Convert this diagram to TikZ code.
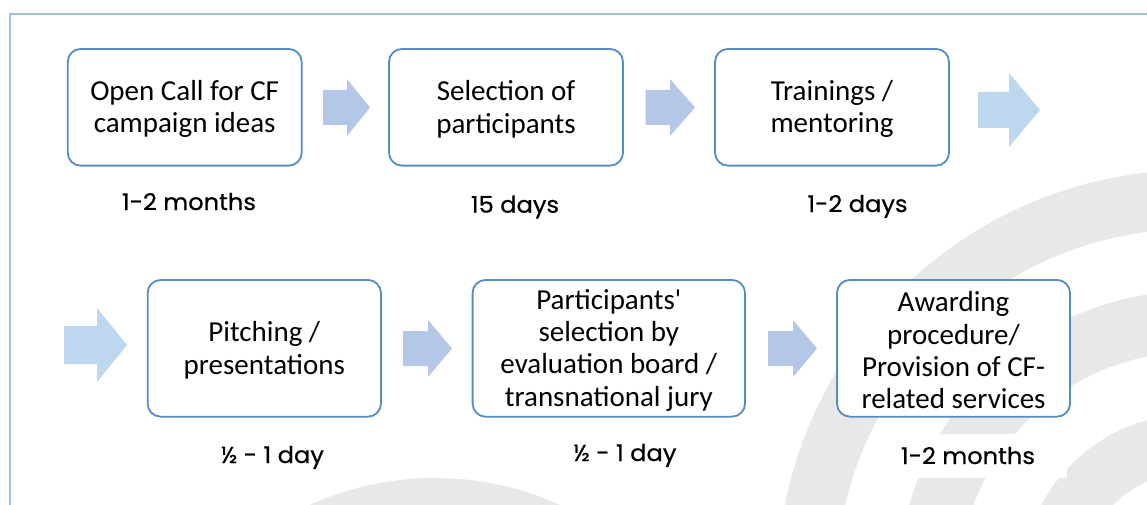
\documentclass[tikz,border=0pt]{standalone}
\usepackage{fontspec}
\setmainfont{Carlito}[Ligatures=TeXOff]
\newfontfamily\labelfont{Poppins}[FakeBold=0.6,FakeStretch=1.05]
\definecolor{boxblue}{RGB}{86,139,197}
\definecolor{arrowA}{RGB}{180,199,231}
\definecolor{arrowB}{RGB}{189,215,238}
\definecolor{framecol}{RGB}{157,195,230}
\definecolor{bandgray}{RGB}{232,232,232}
\newcommand{\blockarrow}[7]{%
  \fill[#7] (#1,#4-#5) -- (#2,#4-#5) -- (#2,#4-#6) -- (#3,#4) -- (#2,#4+#6) -- (#2,#4+#5) -- (#1,#4+#5) -- cycle;}
\begin{document}
\begin{tikzpicture}[x=1pt,y=-1pt,
  stepbox/.style={draw=boxblue, line width=1.8pt, rounded corners=13pt, fill=white, inner sep=0pt},
  steptext/.style={align=center, inner sep=0pt, font=\fontsize{29}{32.2}\selectfont},
  durlabel/.style={anchor=base, inner sep=0pt, font=\labelfont\fontsize{23}{26}\selectfont}]
\useasboundingbox (0,0) rectangle (1147,505);
\fill[white] (0,0) rectangle (1147,505);
% background rings
\begin{scope}
\clip (0,0) rectangle (1147,505);
\fill[bandgray, even odd rule] (1193,586) circle (416pt) (1193,586) circle (357pt)
  (1193,586) circle (295pt) (1193,586) circle (234pt)
  (1193,586) circle (172pt) (1193,586) circle (114pt);
\fill[bandgray] (435,781) circle (303pt);
\end{scope}
% frame
\draw[framecol, line width=2pt] (10,505) -- (10,14) -- (1147,14);
% boxes
\node[stepbox, minimum width=234pt, minimum height=116.7pt] (b1) at (184.7,107.3) {};
\node[stepbox, minimum width=234pt, minimum height=116.7pt] (b2) at (506,107.3) {};
\node[stepbox, minimum width=234pt, minimum height=116.7pt] (b3) at (832,107.3) {};
\node[stepbox, minimum width=233.3pt, minimum height=136.7pt] (b4) at (264.3,348.3) {};
\node[stepbox, minimum width=272.4pt, minimum height=136.7pt] (b5) at (608.8,348.3) {};
\node[stepbox, minimum width=233pt, minimum height=136.7pt] (b6) at (953.5,348.3) {};
\node[steptext] (t1) at ([yshift=-2pt]b1.center) {Open Call for CF\\campaign ideas};
\node[steptext] (t2) at ([yshift=-2pt]b2.center) {Selection of\\participants};
\node[steptext] (t3) at ([yshift=-2pt]b3.center) {Trainings /\\mentoring};
\node[steptext] (t4) at ([yshift=-2pt]b4.center) {Pitching /\\presentations};
\node[steptext] (t5) at ([yshift=-2pt]b5.center) {Participants'\\selection by\\evaluation board /\\transnational jury};
\node[steptext] (t6) at ([yshift=-2pt]b6.center) {Awarding\\procedure/\\Provision of CF-\\related services};
% arrows
\blockarrow{323}{347}{370}{107.5}{17.5}{28.5}{arrowA}
\blockarrow{645.7}{670}{695}{107.5}{17.5}{28.5}{arrowA}
\blockarrow{978}{1009}{1040}{110}{18}{37}{arrowB}
\blockarrow{64}{97}{127}{345}{19}{37}{arrowB}
\blockarrow{403}{428}{452}{348.5}{17.5}{28.5}{arrowA}
\blockarrow{768}{793}{817}{348.5}{17.5}{28.5}{arrowA}
% duration labels
\node[durlabel] (l1) at (189,210) {1-2 months};
\node[durlabel] (l2) at (515,212.7) {15 days};
\node[durlabel] (l3) at (857.5,212) {1-2 days};
\node[durlabel] (l4) at (272.5,463) {½ - 1 day};
\node[durlabel] (l5) at (625,461) {½ - 1 day};
\fill[white] (869,434) rectangle (1067,478);
\node[durlabel] (l6) at (968,464) {1-2 months};
\end{tikzpicture}
\end{document}
